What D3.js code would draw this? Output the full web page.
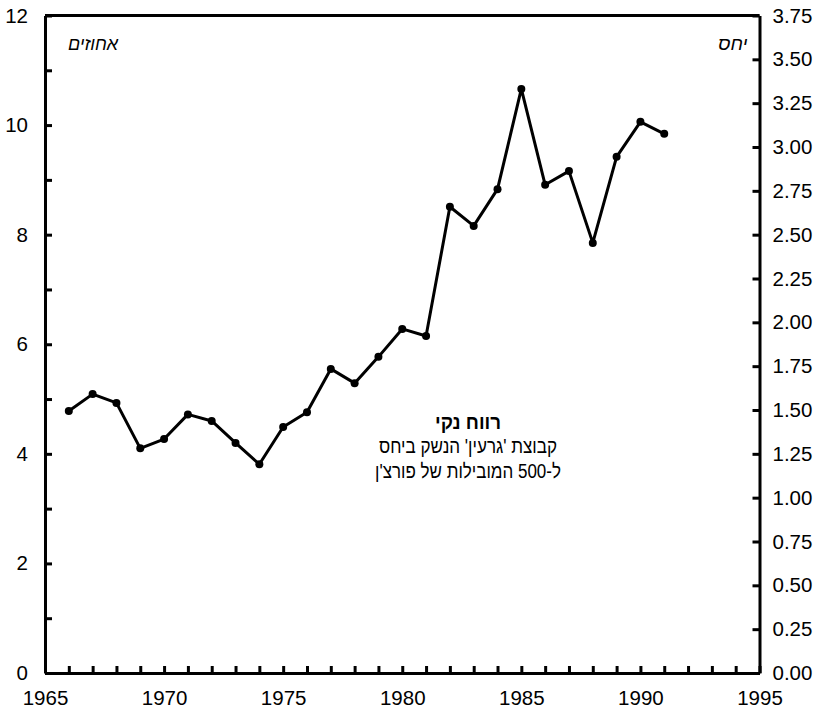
<!DOCTYPE html>
<html>
<head>
<meta charset="utf-8">
<script src="https://cdn.jsdelivr.net/npm/d3@7"></script>
<style>
  body { margin: 0; background: #fff; }
  svg text { font-family: "Liberation Sans", Arial, sans-serif; fill: #000; }
</style>
</head>
<body>
<div id="chart"></div>
<script>
// data
const years = [1966, 1967, 1968, 1969, 1970, 1971, 1972, 1973, 1974, 1975, 1976, 1977, 1978,
  1979, 1980, 1981, 1982, 1983, 1984, 1985, 1986, 1987, 1988, 1989, 1990, 1991];
const netProfit = [4.78, 5.09, 4.93, 4.10, 4.27, 4.72, 4.60, 4.20, 3.81, 4.49, 4.76, 5.55, 5.29,
  5.77, 6.28, 6.15, 8.51, 8.16, 8.83, 10.66, 8.91, 9.16, 7.85, 9.42, 10.06, 9.84];
const leftTicks = d3.range(0, 13, 1);
const rightTicks = d3.range(0, 3.76, 0.25);
const xTicks = d3.range(1965, 1996, 1);
const leftUnit = 'אחוזים';
const rightUnit = 'יחס';
const noteLines = ['רווח נקי', "קבוצת 'גרעין' הנשק ביחס", "ל-500 המובילות של פורצ'ן"];

const W = 819, H = 717;
const margin = { top: 15.5, right: 59.5, bottom: 44, left: 45 };
const width = W - margin.left - margin.right;
const height = H - margin.top - margin.bottom;

const svg = d3.select('#chart').append('svg')
  .attr('width', W).attr('height', H);
const g = svg.append('g').attr('transform', `translate(${margin.left},${margin.top})`);

const x = d3.scaleLinear().domain([1965, 1995]).range([0, width]);
const yL = d3.scaleLinear().domain([0, 12]).range([height, 0]);
const yR = d3.scaleLinear().domain([0, 3.75]).range([height, 0]);

const tickLen = 7;
const labelSize = '20.5px';

// left axis, ticks inside, labels on even values
g.append('g')
  .call(d3.axisLeft(yL).tickValues(leftTicks).tickSizeInner(-tickLen).tickSizeOuter(0)
    .tickPadding(17).tickFormat(d => d % 2 === 0 ? d : ''))
  .call(a => a.selectAll('text').style('font-size', labelSize));

// right axis
g.append('g')
  .attr('transform', `translate(${width},0)`)
  .call(d3.axisRight(yR).tickValues(rightTicks).tickSizeInner(-tickLen).tickSizeOuter(0)
    .tickPadding(13).tickFormat(d3.format('.2f')))
  .call(a => a.selectAll('text').style('font-size', labelSize));

// bottom axis
g.append('g')
  .attr('transform', `translate(0,${height})`)
  .call(d3.axisBottom(x).tickValues(xTicks).tickSizeInner(-tickLen).tickSizeOuter(0)
    .tickPadding(17).tickFormat(d => d % 5 === 0 ? d : ''))
  .call(a => a.selectAll('text').style('font-size', labelSize));

g.selectAll('.domain, .tick line').attr('stroke', '#000').attr('stroke-width', 3);

// top border
g.append('line')
  .attr('x1', 0).attr('x2', width).attr('y1', 0).attr('y2', 0)
  .attr('stroke', '#000').attr('stroke-width', 3);

// unit labels
g.append('text')
  .attr('x', 23).attr('y', 34)
  .attr('text-anchor', 'start')
  .style('font-size', '18px').style('font-style', 'italic')
  .text(leftUnit);
g.append('text')
  .attr('x', width - 12).attr('y', 34)
  .attr('text-anchor', 'end')
  .style('font-size', '19px').style('font-style', 'italic')
  .text(rightUnit);

// line + markers
const series = years.map((yr, i) => ({ yr, v: netProfit[i] }));
g.append('path')
  .datum(series)
  .attr('fill', 'none')
  .attr('stroke', '#000')
  .attr('stroke-width', 3)
  .attr('stroke-linejoin', 'round')
  .attr('d', d3.line().x(d => x(d.yr)).y(d => yL(d.v)));

g.selectAll('.dot')
  .data(series)
  .enter()
  .append('circle')
  .attr('class', 'dot')
  .attr('cx', d => x(d.yr))
  .attr('cy', d => yL(d.v))
  .attr('r', 4)
  .attr('fill', '#000');

// annotation - hebrew fallback font runs a bit wide, fit each line to the original width
const noteWidths = [66, 178, 186];
noteLines.forEach((t, i) => {
  g.append('text')
    .attr('x', 468 - margin.left)
    .attr('y', 413 + i * 24.5)
    .attr('text-anchor', 'middle')
    .attr('textLength', noteWidths[i])
    .attr('lengthAdjust', 'spacingAndGlyphs')
    .style('font-size', '20px')
    .style('font-weight', i === 0 ? 'bold' : 'normal')
    .text(t);
});
</script>
</body>
</html>
